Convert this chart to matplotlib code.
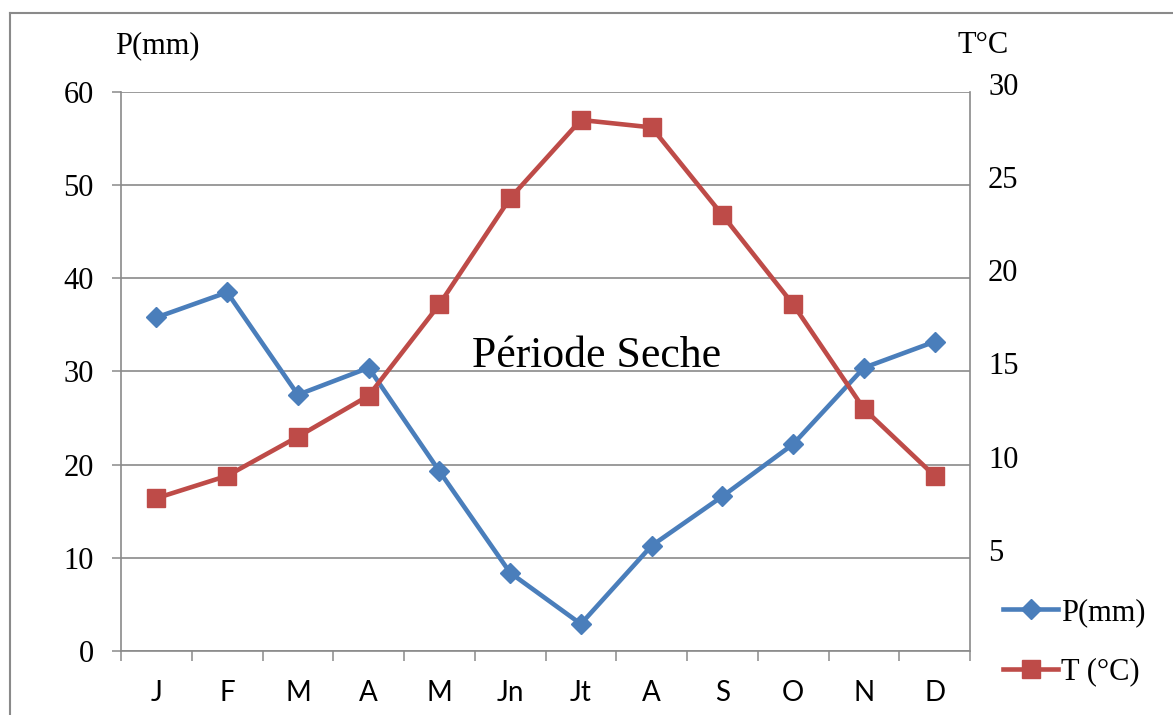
import matplotlib.pyplot as plt
import matplotlib.transforms as mtransforms
from matplotlib.lines import Line2D

# --- data ---
mois = ['J', 'F', 'M', 'A', 'M', 'Jn', 'Jt', 'A', 'S', 'O', 'N', 'D']
precip = [35.8, 38.5, 27.5, 30.4, 19.3, 8.4, 2.9, 11.3, 16.6, 22.2, 30.4, 33.2]
temp = [8.2, 9.4, 11.5, 13.7, 18.6, 24.3, 28.5, 28.1, 23.4, 18.6, 13.0, 9.4]
p_ticks = [0, 10, 20, 30, 40, 50, 60]
t_ticks = [5, 10, 15, 20, 25, 30]

blue = '#4A7EBB'
red = '#BE4B48'
grid_col = '#8a8a8a'
serif = 'Liberation Serif'

fig = plt.figure(figsize=(11.73, 7.15), dpi=100)
ax = fig.add_axes([121 / 1173, 64 / 715, 849 / 1173, 559 / 715])
ax2 = ax.twinx()

x = list(range(len(mois)))
ax.plot(x, precip, color=blue, lw=3.3, marker='D', ms=10.5, mec=blue, zorder=3)
ax2.plot(x, temp, color=red, lw=3.3, marker='s', ms=13.5, mec=red, zorder=3)

# left axis
ax.set_xlim(-0.5, 11.5)
ax.set_ylim(0, 60)
ax.set_yticks(p_ticks)
ax.set_yticklabels([str(v) for v in p_ticks], family=serif, fontsize=22)
ax.tick_params(axis='y', length=6.5, width=1.1, color=grid_col, pad=13)
ax.yaxis.grid(True, color=grid_col, lw=1.2)
ax.set_axisbelow(True)

# x axis: labels at centres, ticks at boundaries
ax.set_xticks(x)
ax.set_xticklabels(mois, family='Lato', fontsize=20)
ax.tick_params(axis='x', which='major', length=0, pad=21)
ax.set_xticks([i - 0.5 for i in range(len(mois) + 1)], minor=True)
ax.tick_params(axis='x', which='minor', length=7.2, width=1.1, color=grid_col)

for s in ['top']:
    ax.spines[s].set_visible(False)
    ax2.spines[s].set_visible(False)
for s in ['left', 'bottom']:
    ax.spines[s].set_color(grid_col)
    ax.spines[s].set_linewidth(1.2)
ax.spines['right'].set_visible(False)
ax2.spines['right'].set_color(grid_col)
ax2.spines['right'].set_linewidth(1.2)
ax2.spines['left'].set_visible(False)
ax2.spines['bottom'].set_visible(False)

# right axis
ax2.set_ylim(0, 30)
ax2.set_yticks(t_ticks)
ax2.set_yticklabels([str(v) for v in t_ticks], family=serif, fontsize=22)
ax2.tick_params(axis='y', length=0, pad=13)
offset = mtransforms.ScaledTranslation(0, 0.08, fig.dpi_scale_trans)
for lab in ax2.get_yticklabels():
    lab.set_transform(lab.get_transform() + offset)

# texts
fig.text(115 / 1173, 1 - 53 / 715, 'P(mm)', family=serif, fontsize=22, va='baseline')
fig.text(957 / 1173, 1 - 53 / 715, 'T°C', family=serif, fontsize=22, va='baseline')
ax.text(0.5607, 0.508, 'Période Seche', transform=ax.transAxes, family=serif,
        fontsize=31.5, ha='center', va='baseline', zorder=4)

# legend
handles = [Line2D([], [], color=blue, lw=3.3, marker='D', ms=10.5, mec=blue),
           Line2D([], [], color=red, lw=3.3, marker='s', ms=13.5, mec=red)]
fig.legend(handles, ['P(mm)', 'T (°C)'], loc='upper left',
           bbox_to_anchor=(1003 / 1173, 1 - 598 / 715), frameon=False,
           prop={'family': serif, 'size': 22}, handlelength=1.8,
           handletextpad=0.1, labelspacing=1.0, borderpad=0, borderaxespad=0)

# outer frame of the chart
fig.add_artist(Line2D([10 / 1173, 1], [1 - 13 / 715, 1 - 13 / 715], color=grid_col, lw=1.5))
fig.add_artist(Line2D([10 / 1173, 10 / 1173], [0, 1 - 13 / 715], color=grid_col, lw=1.5))

fig.savefig('out.png', dpi=100)
